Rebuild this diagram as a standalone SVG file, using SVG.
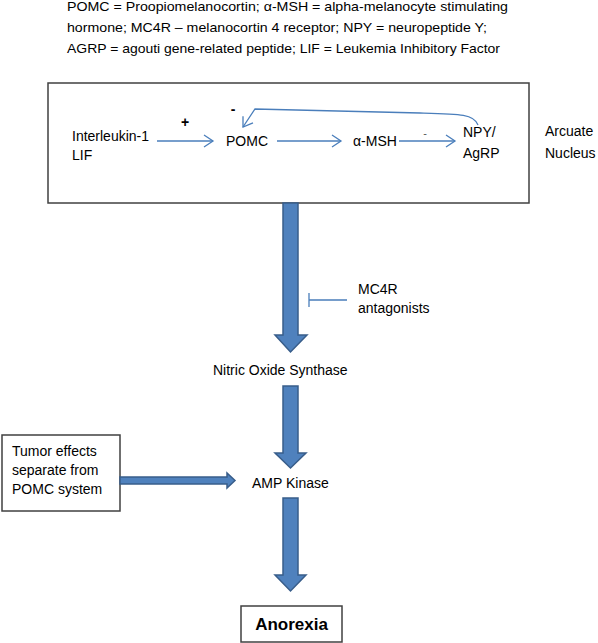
<svg xmlns="http://www.w3.org/2000/svg" width="598" height="643" viewBox="0 0 598 643">
<style>
text{font-family:"Liberation Sans",Arial,sans-serif;fill:#000;}
.t{font-size:14px;}
.hdr{font-size:13.5px;}
.box{fill:#fff;stroke:#404040;stroke-width:1.5;}
.thin{fill:none;stroke:#4a7ebb;stroke-width:1.3;}
.big{fill:#4f81bd;stroke:#385d8a;stroke-width:1.5;stroke-linejoin:miter;}
</style>
<defs>
<marker id="chev" markerWidth="12" markerHeight="14" refX="10" refY="7" orient="auto" markerUnits="userSpaceOnUse">
<path d="M1,1 L10,7 L1,13" fill="none" stroke="#4a7ebb" stroke-width="1.3"/>
</marker>
</defs>
<g id="legend">
<text class="hdr" x="67" y="11" textLength="441" lengthAdjust="spacingAndGlyphs">POMC = Proopiomelanocortin; α-MSH = alpha-melanocyte stimulating</text>
<text class="hdr" x="67" y="32" textLength="420" lengthAdjust="spacingAndGlyphs">hormone; MC4R – melanocortin 4 receptor; NPY = neuropeptide Y;</text>
<text class="hdr" x="67" y="53" textLength="433" lengthAdjust="spacingAndGlyphs">AGRP = agouti gene-related peptide; LIF = Leukemia Inhibitory Factor</text>
</g>
<g id="arcuate-box">
<rect class="box" x="48" y="83" width="481" height="120"/>
</g>
<g id="interleukin">
<text class="t" x="72" y="141">Interleukin-1</text>
<text class="t" x="72" y="160">LIF</text>
</g>
<g id="pomc"><text class="t" x="226" y="146">POMC</text></g>
<g id="amsh"><text class="t" x="353" y="146">α-MSH</text></g>
<g id="npy"><text class="t" x="463" y="137">NPY/</text><text class="t" x="463" y="158">AgRP</text></g>
<g id="arcuate-label"><text class="t" x="545" y="136">Arcuate</text><text class="t" x="545" y="158">Nucleus</text></g>
<g id="nos"><text class="t" x="213" y="375">Nitric Oxide Synthase</text></g>
<g id="mc4r"><text class="t" x="358" y="294">MC4R</text><text class="t" x="358" y="313">antagonists</text></g>
<g id="ampk"><text class="t" x="252" y="488">AMP Kinase</text></g>
<g id="tumor">
<rect class="box" x="2" y="435" width="118" height="76"/>
<text class="t" x="12" y="456">Tumor effects</text>
<text class="t" x="12" y="475">separate from</text>
<text class="t" x="12" y="494">POMC system</text>
</g>
<g id="anorexia">
<rect class="box" x="241" y="606" width="101" height="36"/>
<text x="291.5" y="630" text-anchor="middle" style="font-size:17px;font-weight:bold">Anorexia</text>
</g>
<g id="connectors">
<text x="185" y="127" text-anchor="middle" style="font-size:14px;font-weight:bold">+</text>
<text x="233" y="114" text-anchor="middle" style="font-size:14px;font-weight:bold">-</text>
<text x="425" y="137" text-anchor="middle" style="font-size:11px;fill:#555">-</text>
<line class="thin" x1="157" y1="141" x2="213" y2="141" marker-end="url(#chev)"/>
<line class="thin" x1="277" y1="141" x2="341" y2="141" marker-end="url(#chev)"/>
<line class="thin" x1="399" y1="141" x2="455" y2="141" marker-end="url(#chev)"/>
<path class="thin" d="M478,125 C474,114 460,114 420,113 L255,109 L243,127" marker-end="url(#chev)"/>
<path class="thin" d="M347,300 L309,300 M309,293 L309,307"/>
<path class="big" d="M283,203 L298,203 L298,335 L307,335 L290.5,352 L275,335 L283,335 Z"/>
<path class="big" d="M283,386 L298,386 L298,453 L306,453 L290.5,468 L275,453 L283,453 Z"/>
<path class="big" d="M283,498 L298,498 L298,575 L306,575 L290.5,591 L275,575 L283,575 Z"/>
<path class="big" d="M120,477 L227,477 L227,473 L235,480.5 L227,488 L227,484 L120,484 Z"/>
</g>
</svg>
